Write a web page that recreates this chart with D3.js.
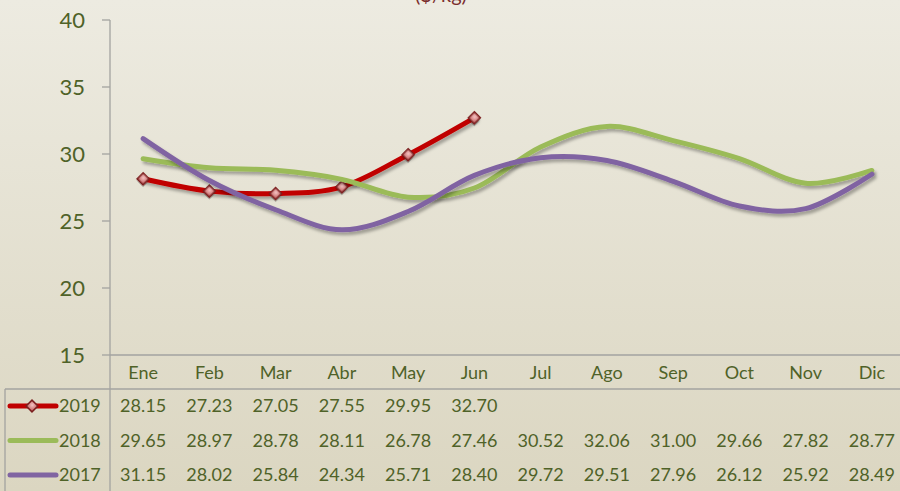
<!DOCTYPE html>
<html><head><meta charset="utf-8">
<script src="https://cdn.jsdelivr.net/npm/d3@7"></script>
<style>
html,body{margin:0;padding:0;overflow:hidden;}
svg{display:block;font-family:Lato,"Noto Sans",sans-serif;}
</style></head>
<body><svg id="c" width="900" height="491"></svg>
<script>
const months = ["Ene","Feb","Mar","Abr","May","Jun","Jul","Ago","Sep","Oct","Nov","Dic"];
const years = ["2019","2018","2017"];
const v2019 = [28.15,27.23,27.05,27.55,29.95,32.70];
const v2018 = [29.65,28.97,28.78,28.11,26.78,27.46,30.52,32.06,31.00,29.66,27.82,28.77];
const v2017 = [31.15,28.02,25.84,24.34,25.71,28.40,29.72,29.51,27.96,26.12,25.92,28.49];
const yTicks = [15,20,25,30,35,40];
const title = "($/kg)";

const series = [
  {name: years[0], values: v2019, color: "#c00000", marker: true},
  {name: years[1], values: v2018, color: "#9bbb59", marker: false},
  {name: years[2], values: v2017, color: "#8064a2", marker: false}
];

const W = 900, H = 491;
const svg = d3.select("#c");
const defs = svg.append("defs");
const bg = defs.append("linearGradient").attr("id","bg").attr("x1",0).attr("y1",0).attr("x2",0).attr("y2",1);
bg.append("stop").attr("offset","0%").attr("stop-color","#edebe1");
bg.append("stop").attr("offset","100%").attr("stop-color","#dbd6c1");
const sh = defs.append("filter").attr("id","sh").attr("x","-10%").attr("y","-10%").attr("width","120%").attr("height","130%");
sh.append("feDropShadow").attr("dx",2).attr("dy",3).attr("stdDeviation",1.8).attr("flood-color","#000").attr("flood-opacity",0.3);
const mg = defs.append("radialGradient").attr("id","mg").attr("cx","45%").attr("cy","40%").attr("r","60%");
mg.append("stop").attr("offset","0%").attr("stop-color","#f4c4c4");
mg.append("stop").attr("offset","100%").attr("stop-color","#c86a6a");

svg.append("rect").attr("width",W).attr("height",H).attr("fill","url(#bg)");

const x = d3.scaleBand().domain(months).range([110, 905]);
const y = d3.scaleLinear().domain([15,40]).range([355, 20]);
const textColor = "#4f6228";
const gridColor = "#a3a3a0";

// title
svg.append("text").attr("x",441).attr("y",2).attr("text-anchor","middle")
  .attr("font-size",20).attr("fill","#7b2e2e").text(title);

// y axis
const yAxis = svg.append("g");
yAxis.selectAll("line.t").data(yTicks).join("line")
  .attr("x1",102).attr("x2",110).attr("y1",d=>y(d)).attr("y2",d=>y(d))
  .attr("stroke",gridColor).attr("stroke-width",1.3);
yAxis.selectAll("text").data(yTicks).join("text")
  .attr("x",85).attr("y",d=>y(d)).attr("dy","0.36em").attr("text-anchor","end")
  .attr("font-size",22).attr("fill",textColor).text(d=>d);

// axis & table lines
svg.append("line").attr("x1",110).attr("x2",110).attr("y1",y(40)).attr("y2",H).attr("stroke",gridColor).attr("stroke-width",1.3);
svg.append("line").attr("x1",110).attr("x2",W).attr("y1",y(15)).attr("y2",y(15)).attr("stroke",gridColor).attr("stroke-width",1.3);
svg.append("line").attr("x1",5).attr("x2",W).attr("y1",389).attr("y2",389).attr("stroke",gridColor).attr("stroke-width",1.3);
svg.append("line").attr("x1",5).attr("x2",5).attr("y1",389).attr("y2",H).attr("stroke",gridColor).attr("stroke-width",1.3);

// category labels
svg.append("g").selectAll("text").data(months).join("text")
  .attr("x",d=>x(d)+x.bandwidth()/2).attr("y",373).attr("dy","0.36em")
  .attr("text-anchor","middle").attr("font-size",18).attr("fill",textColor).text(d=>d);

// lines
const line = d3.line().x((d,i)=>x(months[i])+x.bandwidth()/2).y(d=>y(d)).curve(d3.curveCatmullRom.alpha(0));
const gl = svg.append("g");
series.forEach(s=>{
  gl.append("path").datum(s.values).attr("d",line).attr("fill","none")
    .attr("stroke",s.color).attr("stroke-width",5).attr("stroke-linecap","round")
    .attr("filter","url(#sh)");
  if(s.marker){
    gl.selectAll(null).data(s.values).join("path")
      .attr("d",d3.symbol(d3.symbolDiamond2? d3.symbolSquare : d3.symbolSquare, 70))
      .attr("transform",(d,i)=>`translate(${x(months[i])+x.bandwidth()/2},${y(d)}) rotate(45)`)
      .attr("fill","url(#mg)").attr("stroke","#7a1e1e").attr("stroke-width",1.5)
      .attr("filter","url(#sh)");
  }
});

// table rows
const rowY = [406, 440.5, 475];
const tg = svg.append("g");
series.forEach((s,r)=>{
  const yy = rowY[r];
  tg.append("line").attr("x1",10).attr("x2",56).attr("y1",yy).attr("y2",yy)
    .attr("stroke",s.color).attr("stroke-width",5).attr("stroke-linecap","round");
  if(s.marker){
    tg.append("path").attr("d",d3.symbol(d3.symbolSquare,70))
      .attr("transform",`translate(32,${yy}) rotate(45)`)
      .attr("fill","url(#mg)").attr("stroke","#7a1e1e").attr("stroke-width",1.5);
  }
  tg.append("text").attr("x",59).attr("y",yy).attr("dy","0.36em")
    .attr("font-size",18).attr("fill",textColor).text(s.name);
  tg.selectAll(null).data(s.values).join("text")
    .attr("x",(d,i)=>x(months[i])+x.bandwidth()/2).attr("y",yy).attr("dy","0.36em")
    .attr("text-anchor","middle").attr("font-size",18).attr("fill",textColor)
    .text(d=>d.toFixed(2));
});
</script></body></html>
